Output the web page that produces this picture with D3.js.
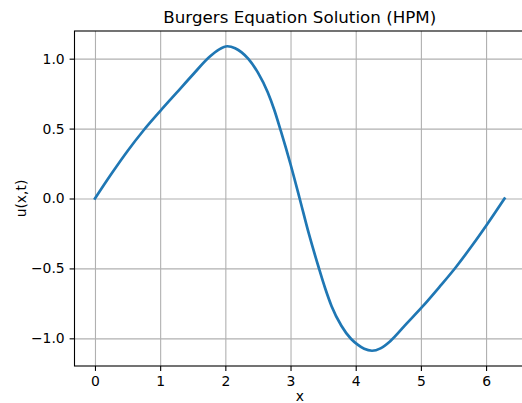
<!DOCTYPE html>
<html>
<head>
<meta charset="utf-8">
<script src="https://cdn.jsdelivr.net/npm/d3@7"></script>
<style>
    body { margin: 0; background: #fff; }
    text { font-family: "DejaVu Sans", sans-serif; }
</style>
</head>
<body>
<script>
// values
var xVals = [0, 0.25, 0.5, 0.75, 1.0, 1.25, 1.5, 1.75, 1.9, 2.03, 2.15, 2.25, 2.35, 2.5, 2.65, 2.75, 2.85, 3.0, 3.14,
             3.28, 3.43, 3.53, 3.63, 3.78, 3.93, 4.03, 4.13, 4.25, 4.38, 4.53, 4.78, 5.03, 5.28, 5.53, 5.78, 6.03, 6.283];
var uVals = [0, 0.175, 0.34, 0.49, 0.625, 0.755, 0.885, 1.01, 1.065, 1.089, 1.075, 1.045, 1.0, 0.9, 0.76, 0.635, 0.485, 0.245, 0,
             -0.25, -0.49, -0.64, -0.77, -0.91, -1.005, -1.045, -1.075, -1.089, -1.072, -1.02, -0.895, -0.77, -0.635, -0.495, -0.34, -0.175, 0];
var xTicks = [0, 1, 2, 3, 4, 5, 6];
var yTicks = [-1.0, -0.5, 0.0, 0.5, 1.0];
var title = "Burgers Equation Solution (HPM)";

var w = 522,
    h = 403,
    padL = 74.5,
    padR = 525,
    padT = 31,
    padB = 366;

var data = xVals.map(function (x, i) { return {x: x, u: uVals[i]}; });

var svg = d3.select("body").append("svg").attr("width", w).attr("height", h);

// matplotlib style 5% margins
var xExt = d3.extent(xVals), yExt = d3.extent(uVals);
var xPad = (xExt[1] - xExt[0]) * 0.05, yPad = (yExt[1] - yExt[0]) * 0.05;

var xScale = d3.scaleLinear()
    .domain([xExt[0] - xPad, xExt[1] + xPad])
    .range([padL, padR]);

var yScale = d3.scaleLinear()
    .domain([yExt[0] - yPad, yExt[1] + yPad])
    .range([padB, padT]);

function fmt(d) {
    return d3.format(".1f")(d).replace("-", "\u2212");
}

// grid
svg.append("g")
    .attr("transform", "translate(0," + padB + ")")
    .call(d3.axisBottom(xScale).tickValues(xTicks).tickSize(-(padB - padT)).tickFormat(""))
    .call(function (g) {
        g.select(".domain").remove();
        g.selectAll("line").attr("stroke", "#b0b0b0").attr("stroke-width", 1.1);
    });

svg.append("g")
    .attr("transform", "translate(" + padL + ",0)")
    .call(d3.axisLeft(yScale).tickValues(yTicks).tickSize(-(padR - padL)).tickFormat(""))
    .call(function (g) {
        g.select(".domain").remove();
        g.selectAll("line").attr("stroke", "#b0b0b0").attr("stroke-width", 1.1);
    });

// the curve
var lineFn = d3.line()
    .x(function (d) { return xScale(d.x); })
    .y(function (d) { return yScale(d.u); })
    .curve(d3.curveMonotoneX);

svg.append("path")
    .attr("d", lineFn(data))
    .attr("fill", "none")
    .attr("stroke", "#1f77b4")
    .attr("stroke-width", 2.7)
    .attr("stroke-linejoin", "round")
    .attr("stroke-linecap", "square");

// frame
svg.append("rect")
    .attr("x", padL).attr("y", padT)
    .attr("width", padR - padL).attr("height", padB - padT)
    .attr("fill", "none").attr("stroke", "#000").attr("stroke-width", 1.1);

// axes
var xAxis = svg.append("g")
    .attr("transform", "translate(0," + padB + ")")
    .call(d3.axisBottom(xScale).tickValues(xTicks).tickSize(4.9).tickPadding(4.9).tickSizeOuter(0).tickFormat(d3.format("d")));

var yAxis = svg.append("g")
    .attr("transform", "translate(" + padL + ",0)")
    .call(d3.axisLeft(yScale).tickValues(yTicks).tickSize(4.9).tickPadding(4.9).tickSizeOuter(0).tickFormat(fmt));

[xAxis, yAxis].forEach(function (g) {
    g.select(".domain").remove();
    g.selectAll("line").attr("stroke", "#000").attr("stroke-width", 1.1);
    g.selectAll("text").attr("fill", "#000").style("font-size", "13.9px").style("font-family", "DejaVu Sans");
});

// labels
svg.append("text")
    .attr("x", (padL + padR) / 2)
    .attr("y", 22.5)
    .attr("text-anchor", "middle")
    .style("font-size", "16.7px")
    .text(title);

svg.append("text")
    .attr("x", (padL + padR) / 2)
    .attr("y", 401)
    .attr("text-anchor", "middle")
    .style("font-size", "13.9px")
    .text("x");

svg.append("text")
    .attr("transform", "translate(26," + ((padT + padB) / 2) + ") rotate(-90)")
    .attr("text-anchor", "middle")
    .style("font-size", "13.9px")
    .text("u(x,t)");
</script>
</body>
</html>
